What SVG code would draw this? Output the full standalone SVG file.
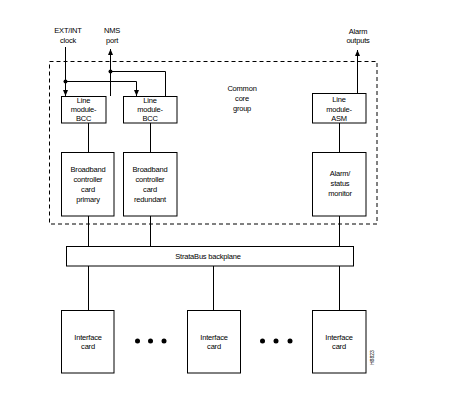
<svg xmlns="http://www.w3.org/2000/svg" width="468" height="405" viewBox="0 0 468 405">
<defs>
<style>
rect.n{fill:#fff;stroke:#000;stroke-width:1}
line,path.c{stroke:#000;stroke-width:1;fill:none}
text{font-family:"Liberation Sans",Arial,sans-serif;font-size:7.5px;fill:#000;text-anchor:middle;letter-spacing:-0.2px}
</style>
<marker id="ah" viewBox="0 0 6 6" refX="6" refY="3" markerWidth="6" markerHeight="6" markerUnits="userSpaceOnUse" orient="auto">
<path d="M0,0.5 L6,3 L0,5.5 Z" fill="#000"/>
</marker>
</defs>
<rect width="468" height="405" fill="#fff"/>
<g id="common-core-group">
<rect x="49.5" y="61.5" width="327.5" height="162.5" fill="none" stroke="#000" stroke-width="1" stroke-dasharray="4,3"/>
<text x="242" y="90.5">Common</text>
<text x="242" y="100.5">core</text>
<text x="242" y="110.5">group</text>
</g>
<g id="labels">
<text x="68" y="32.5">EXT/INT</text>
<text x="68" y="42.5">clock</text>
<text x="112" y="32.5">NMS</text>
<text x="112" y="42.5">port</text>
<text x="358" y="34">Alarm</text>
<text x="358" y="43">outputs</text>
</g>
<g id="connectors">
<line x1="65.5" y1="47" x2="65.5" y2="96" marker-end="url(#ah)"/>
<path class="c" d="M65.5,81.5 H136.5 V96" marker-end="url(#ah)"/>
<circle cx="65.5" cy="81.5" r="2" fill="#000"/>
<line x1="110.5" y1="96" x2="110.5" y2="49" marker-end="url(#ah)"/>
<path class="c" d="M110.5,71.5 H165.5 V96.5"/>
<circle cx="110.5" cy="71.5" r="2" fill="#000"/>
<line x1="357.5" y1="93" x2="357.5" y2="50" marker-end="url(#ah)"/>
<line x1="88.5" y1="123" x2="88.5" y2="152"/>
<line x1="150.5" y1="123" x2="150.5" y2="152"/>
<line x1="339.5" y1="123" x2="339.5" y2="152"/>
<line x1="88.5" y1="216" x2="88.5" y2="246"/>
<line x1="150.5" y1="216" x2="150.5" y2="246"/>
<line x1="339.5" y1="216" x2="339.5" y2="246"/>
<line x1="88.5" y1="266" x2="88.5" y2="310"/>
<line x1="213.5" y1="266" x2="213.5" y2="310"/>
<line x1="339.5" y1="266" x2="339.5" y2="310"/>
</g>
<g id="line-module-bcc-1">
<rect class="n" x="61.5" y="96.5" width="44.5" height="26.5"/>
<text x="83.5" y="103">Line</text>
<text x="83.5" y="112">module-</text>
<text x="83.5" y="121">BCC</text>
</g>
<g id="line-module-bcc-2">
<rect class="n" x="123.5" y="96.5" width="53.5" height="26.5"/>
<text x="150" y="103">Line</text>
<text x="150" y="112">module-</text>
<text x="150" y="121">BCC</text>
</g>
<g id="line-module-asm">
<rect class="n" x="312.5" y="93.5" width="53.5" height="29.5"/>
<text x="339" y="102">Line</text>
<text x="339" y="111.5">module-</text>
<text x="339" y="120.5">ASM</text>
</g>
<g id="bcc-primary">
<rect class="n" x="61.5" y="152.5" width="52.5" height="63.5"/>
<text x="88" y="171.5">Broadband</text>
<text x="88" y="181.5">controller</text>
<text x="88" y="191.5">card</text>
<text x="88" y="201.5">primary</text>
</g>
<g id="bcc-redundant">
<rect class="n" x="123.5" y="152.5" width="53.5" height="63.5"/>
<text x="150" y="171.5">Broadband</text>
<text x="150" y="181.5">controller</text>
<text x="150" y="191.5">card</text>
<text x="150" y="201.5">redundant</text>
</g>
<g id="alarm-status-monitor">
<rect class="n" x="312.5" y="152.5" width="53.5" height="63.5"/>
<text x="340" y="175.5">Alarm/</text>
<text x="340" y="185.5">status</text>
<text x="340" y="195.5">monitor</text>
</g>
<g id="stratabus-backplane">
<rect class="n" x="66.5" y="246.5" width="287" height="19.5"/>
<text x="208" y="259">StrataBus backplane</text>
</g>
<g id="interface-card-1">
<rect class="n" x="61.5" y="310.5" width="52.5" height="62.5"/>
<text x="88" y="340">Interface</text>
<text x="88" y="349">card</text>
</g>
<g id="interface-card-2">
<rect class="n" x="187.5" y="310.5" width="53" height="62.5"/>
<text x="214" y="340">Interface</text>
<text x="214" y="349">card</text>
</g>
<g id="interface-card-3">
<rect class="n" x="312.5" y="310.5" width="53.5" height="62.5"/>
<text x="339" y="340">Interface</text>
<text x="339" y="349">card</text>
</g>
<g id="ellipsis-dots" fill="#000">
<circle cx="137.5" cy="341" r="2.5"/>
<circle cx="150.5" cy="341" r="2.5"/>
<circle cx="164" cy="341" r="2.5"/>
<circle cx="262.5" cy="341" r="2.5"/>
<circle cx="276" cy="341" r="2.5"/>
<circle cx="290" cy="341" r="2.5"/>
</g>
<text x="0" y="0" transform="translate(374,365) rotate(-90)" style="font-size:5px;text-anchor:start;letter-spacing:0">H8823</text>
</svg>
